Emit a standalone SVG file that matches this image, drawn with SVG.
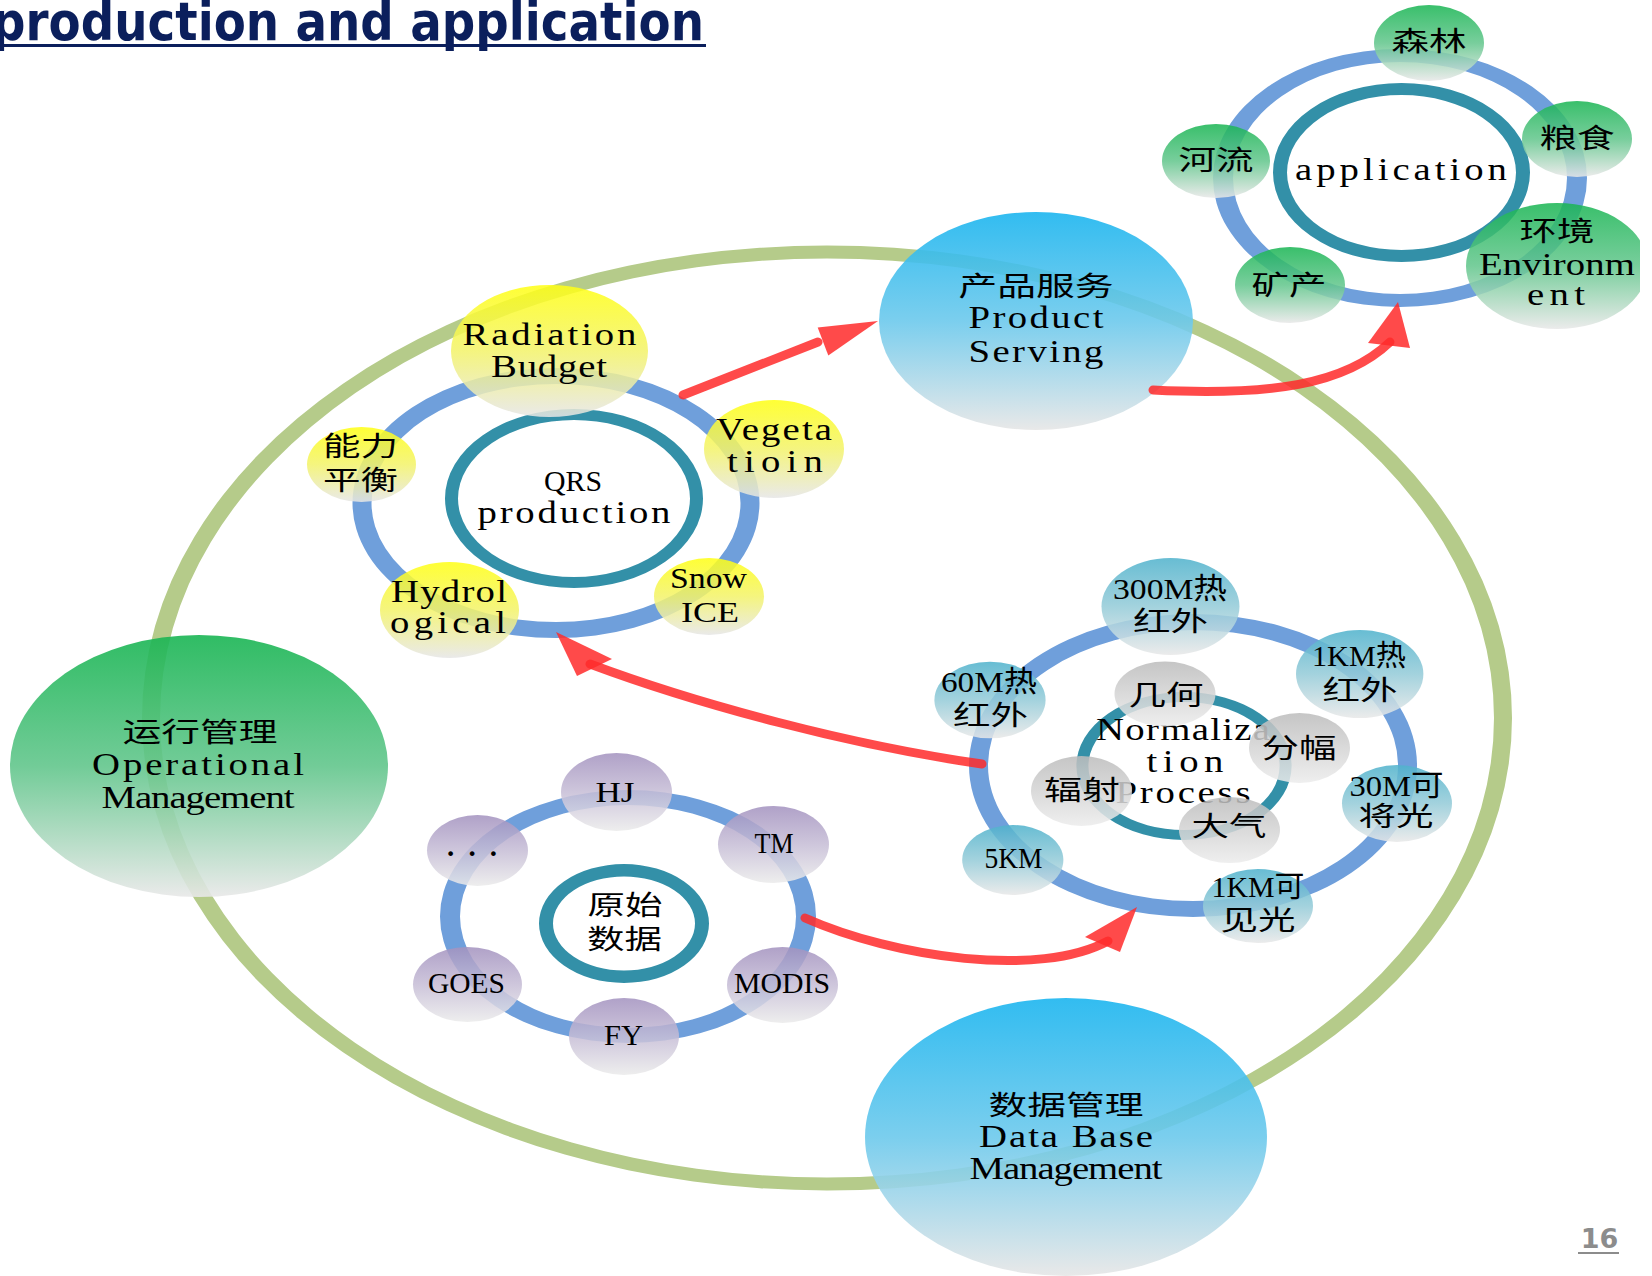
<svg xmlns="http://www.w3.org/2000/svg" width="1652" height="1276" viewBox="0 0 1652 1276">
<style>
.lat{font-family:'Liberation Serif','Noto Sans CJK SC',serif;font-size:29px;fill:#000;text-anchor:middle}
.sp{font-size:31px}
.cjk{font-family:'Noto Sans CJK SC','Liberation Serif',sans-serif;font-size:27px;fill:#000;text-anchor:middle}
.mix{font-family:'Liberation Serif','Noto Sans CJK SC',serif;font-size:29px;fill:#000;text-anchor:middle}
.blue{fill:#6f9fdb;fill-rule:evenodd}
.teal{fill:#3390a8;fill-rule:evenodd}
.big{opacity:.9}
.sat{opacity:.86}
.line{fill:none;stroke:#ff2a2a;stroke-width:9;stroke-linecap:round;opacity:.85}
.head{fill:#ff2a2a;opacity:.85}
</style>
<defs>
<linearGradient id="gGreen" x1="0" y1="0" x2="0" y2="1"><stop offset="0" stop-color="#19b553"/><stop offset=".5" stop-color="#62c68c"/><stop offset="1" stop-color="#e8e8e8"/></linearGradient>
<linearGradient id="gBlue" x1="0" y1="0" x2="0" y2="1"><stop offset="0" stop-color="#1bb5ef"/><stop offset=".5" stop-color="#6cc9ec"/><stop offset="1" stop-color="#e6e6e6"/></linearGradient>
<linearGradient id="gYellow" x1="0" y1="0" x2="0" y2="1"><stop offset="0" stop-color="#ffff14"/><stop offset=".5" stop-color="#f3f36a"/><stop offset="1" stop-color="#e6e6e6"/></linearGradient>
<linearGradient id="gCyan" x1="0" y1="0" x2="0" y2="1"><stop offset="0" stop-color="#4fb2cc"/><stop offset=".5" stop-color="#94cbd8"/><stop offset="1" stop-color="#e8e8e8"/></linearGradient>
<linearGradient id="gGray" x1="0" y1="0" x2="0" y2="1"><stop offset="0" stop-color="#bcbcbc"/><stop offset="1" stop-color="#ececec"/></linearGradient>
<linearGradient id="gPurple" x1="0" y1="0" x2="0" y2="1"><stop offset="0" stop-color="#a392bf"/><stop offset=".5" stop-color="#c6bdd6"/><stop offset="1" stop-color="#ebebeb"/></linearGradient>
<clipPath id="clipR"><rect x="0" y="0" width="1640" height="1276"/></clipPath>
</defs>
<rect width="1652" height="1276" fill="#fff"/>

<g id="title">
<text x="-8" y="40" font-family="'DejaVu Sans',Verdana,sans-serif" font-weight="bold" font-size="54" fill="#0b1f5c" textLength="712" lengthAdjust="spacingAndGlyphs">production and application</text>
<rect x="0" y="44" width="706" height="3" fill="#0b1f5c"/>
</g>

<g id="outer-cycle">
<path fill="#b5cb8a" fill-rule="evenodd" d="M142 718a685 472.5 0 1 0 1370 0a685 472.5 0 1 0 -1370 0Z M160 718a667 459.5 0 1 0 1334 0a667 459.5 0 1 0 -1334 0Z"/>
</g>

<g id="node-operational">
<ellipse class="big" cx="199" cy="766" rx="189" ry="131" fill="url(#gGreen)"/>
<text class="cjk" x="200" y="742" textLength="155" lengthAdjust="spacingAndGlyphs">运行管理</text>
<text class="lat sp" transform="scale(1.25 1)" x="158.4" y="775" textLength="169.6" lengthAdjust="spacing">Operational</text>
<text class="lat sp" transform="scale(1.25 1)" x="158.4" y="808" textLength="154.4" lengthAdjust="spacing">Management</text>
</g>

<g id="node-product">
<ellipse class="big" cx="1036" cy="321" rx="157" ry="109" fill="url(#gBlue)"/>
<text class="cjk" x="1036" y="296" textLength="155" lengthAdjust="spacingAndGlyphs">产品服务</text>
<text class="lat sp" transform="scale(1.25 1)" x="828.8" y="328" textLength="108" lengthAdjust="spacing">Product</text>
<text class="lat sp" transform="scale(1.25 1)" x="828.8" y="362" textLength="108" lengthAdjust="spacing">Serving</text>
</g>

<g id="node-database">
<ellipse class="big" cx="1066" cy="1137" rx="201" ry="139" fill="url(#gBlue)"/>
<text class="cjk" x="1066" y="1115" textLength="155" lengthAdjust="spacingAndGlyphs">数据管理</text>
<text class="lat sp" transform="scale(1.25 1)" x="852.8" y="1147" textLength="139.2" lengthAdjust="spacing">Data Base</text>
<text class="lat sp" transform="scale(1.25 1)" x="852.8" y="1179" textLength="154.4" lengthAdjust="spacing">Management</text>
</g>

<!-- application cluster -->
<g id="ring-application">
<path class="blue" d="M1213 178a187 129 0 1 0 374 0a187 129 0 1 0 -374 0Z M1233 178a167 116 0 1 0 334 0a167 116 0 1 0 -334 0Z"/>
</g>
<g id="node-application">
<path class="teal" d="M1273 172.5a128.5 89.5 0 1 0 257 0a128.5 89.5 0 1 0 -257 0Z M1287 172.5a114.5 77.5 0 1 0 229 0a114.5 77.5 0 1 0 -229 0Z"/>
<text class="lat sp" transform="scale(1.25 1)" x="1120.8" y="180" textLength="169.6" lengthAdjust="spacing">application</text>
</g>
<g id="node-forest">
<ellipse class="sat" cx="1429" cy="43" rx="55" ry="38" fill="url(#gGreen)"/>
<text class="cjk" x="1429" y="51" textLength="75" lengthAdjust="spacingAndGlyphs">森林</text>
</g>
<g id="node-grain">
<ellipse class="sat" cx="1577" cy="139" rx="55" ry="38" fill="url(#gGreen)"/>
<text class="cjk" x="1577" y="148" textLength="75" lengthAdjust="spacingAndGlyphs">粮食</text>
</g>
<g id="node-river">
<ellipse class="sat" cx="1216" cy="161" rx="54" ry="37" fill="url(#gGreen)"/>
<text class="cjk" x="1216" y="170" textLength="75" lengthAdjust="spacingAndGlyphs">河流</text>
</g>
<g id="node-mineral">
<ellipse class="sat" cx="1290" cy="285" rx="55" ry="38" fill="url(#gGreen)"/>
<text class="cjk" x="1289" y="295" textLength="75" lengthAdjust="spacingAndGlyphs">矿产</text>
</g>
<g id="node-environment">
<ellipse class="sat" cx="1557" cy="266" rx="91" ry="63" fill="url(#gGreen)" clip-path="url(#clipR)"/>
<text class="cjk" x="1557" y="241" textLength="75" lengthAdjust="spacingAndGlyphs">环境</text>
<text class="lat sp" transform="scale(1.25 1)" x="1245.6" y="275" textLength="124.8" lengthAdjust="spacing">Environm</text>
<text class="lat sp" transform="scale(1.25 1)" x="1244.8" y="305" textLength="46.4" lengthAdjust="spacing">ent</text>
</g>

<!-- QRS cluster -->
<g id="ring-qrs">
<path class="blue" d="M352.5 503a203.5 135 0 1 0 407 0a203.5 135 0 1 0 -407 0Z M371.5 503a184.5 119 0 1 0 369 0a184.5 119 0 1 0 -369 0Z"/>
</g>
<g id="node-qrs">
<path class="teal" d="M445 498.5a129 89.5 0 1 0 258 0a129 89.5 0 1 0 -258 0Z M458 498.5a116 78.5 0 1 0 232 0a116 78.5 0 1 0 -232 0Z"/>
<text class="lat" x="573" y="491" textLength="58" lengthAdjust="spacingAndGlyphs">QRS</text>
<text class="lat sp" transform="scale(1.25 1)" x="459.2" y="523" textLength="154.4" lengthAdjust="spacing">production</text>
</g>
<g id="node-radiation">
<ellipse class="sat" cx="549.5" cy="351" rx="98.5" ry="66" fill="url(#gYellow)"/>
<text class="lat sp" transform="scale(1.25 1)" x="439.6" y="345" textLength="139.2" lengthAdjust="spacing">Radiation</text>
<text class="lat sp" transform="scale(1.25 1)" x="439.2" y="377" textLength="92.8" lengthAdjust="spacing">Budget</text>
</g>
<g id="node-energy">
<ellipse class="sat" cx="361.5" cy="464.5" rx="54.5" ry="37.5" fill="url(#gYellow)"/>
<text class="cjk" x="360.5" y="456" textLength="75" lengthAdjust="spacingAndGlyphs">能力</text>
<text class="cjk" x="360.5" y="490" textLength="75" lengthAdjust="spacingAndGlyphs">平衡</text>
</g>
<g id="node-vegetation">
<ellipse class="sat" cx="774" cy="449" rx="70" ry="49" fill="url(#gYellow)"/>
<text class="lat sp" transform="scale(1.25 1)" x="619.2" y="440" textLength="92.8" lengthAdjust="spacing">Vegeta</text>
<text class="lat sp" transform="scale(1.25 1)" x="620" y="472" textLength="76.8" lengthAdjust="spacing">tioin</text>
</g>
<g id="node-snow">
<ellipse class="sat" cx="709" cy="596.5" rx="55" ry="38.5" fill="url(#gYellow)"/>
<text class="lat" x="708.5" y="588" textLength="77" lengthAdjust="spacingAndGlyphs">Snow</text>
<text class="lat" x="710" y="622" textLength="58" lengthAdjust="spacingAndGlyphs">ICE</text>
</g>
<g id="node-hydro">
<ellipse class="sat" cx="449.5" cy="610" rx="69.5" ry="48" fill="url(#gYellow)"/>
<text class="lat sp" transform="scale(1.25 1)" x="359.2" y="602" textLength="92.8" lengthAdjust="spacing">Hydrol</text>
<text class="lat sp" transform="scale(1.25 1)" x="358.4" y="633" textLength="92.8" lengthAdjust="spacing">ogical</text>
</g>

<!-- Normalization cluster -->
<g id="ring-norm">
<path class="blue" d="M969 765.5a224 151.5 0 1 0 448 0a224 151.5 0 1 0 -448 0Z M988 765.5a205 135.5 0 1 0 410 0a205 135.5 0 1 0 -410 0Z"/>
</g>
<g id="node-normalization">
<path class="teal" d="M1076.4 766a107.6 74 0 1 0 215.2 0a107.6 74 0 1 0 -215.2 0Z M1088.4 766a95.6 64 0 1 0 191.2 0a95.6 64 0 1 0 -191.2 0Z"/>
<text class="lat sp" transform="scale(1.25 1)" x="946.4" y="740" textLength="139.2" lengthAdjust="spacing">Normaliza</text>
<text class="lat sp" transform="scale(1.25 1)" x="948" y="772" textLength="61.6" lengthAdjust="spacing">tion</text>
<text class="lat sp" transform="scale(1.25 1)" x="946.4" y="803" textLength="108" lengthAdjust="spacing">Process</text>
</g>
<g id="node-geometry">
<ellipse class="sat" cx="1165" cy="694" rx="50.5" ry="32.5" fill="url(#gGray)"/>
<text class="cjk" x="1166" y="705" textLength="75" lengthAdjust="spacingAndGlyphs">几何</text>
</g>
<g id="node-tiling">
<ellipse class="sat" cx="1299.5" cy="748" rx="50.5" ry="35" fill="url(#gGray)"/>
<text class="cjk" x="1299" y="758" textLength="75" lengthAdjust="spacingAndGlyphs">分幅</text>
</g>
<g id="node-radiometric">
<ellipse class="sat" cx="1081.5" cy="791" rx="50.5" ry="35" fill="url(#gGray)"/>
<text class="cjk" x="1082" y="800" textLength="76" lengthAdjust="spacingAndGlyphs">辐射</text>
</g>
<g id="node-atmosphere">
<ellipse class="sat" cx="1229.5" cy="830" rx="50.5" ry="33" fill="url(#gGray)"/>
<text class="cjk" x="1229" y="836" textLength="75" lengthAdjust="spacingAndGlyphs">大气</text>
</g>
<g id="node-300m">
<ellipse class="sat" cx="1170.5" cy="606.5" rx="69" ry="48.5" fill="url(#gCyan)"/>
<text class="mix" x="1170" y="599" textLength="114" lengthAdjust="spacingAndGlyphs">300M热</text>
<text class="cjk" x="1170.5" y="631" textLength="75" lengthAdjust="spacingAndGlyphs">红外</text>
</g>
<g id="node-1km-ir">
<ellipse class="sat" cx="1359.7" cy="674" rx="63.7" ry="44" fill="url(#gCyan)"/>
<text class="mix" x="1359" y="666" textLength="94" lengthAdjust="spacingAndGlyphs">1KM热</text>
<text class="cjk" x="1360" y="700" textLength="75" lengthAdjust="spacingAndGlyphs">红外</text>
</g>
<g id="node-60m">
<ellipse class="sat" cx="990" cy="700" rx="55.6" ry="38.3" fill="url(#gCyan)"/>
<text class="mix" x="989" y="692" textLength="96" lengthAdjust="spacingAndGlyphs">60M热</text>
<text class="cjk" x="990.5" y="725" textLength="75" lengthAdjust="spacingAndGlyphs">红外</text>
</g>
<g id="node-30m">
<ellipse class="sat" cx="1397" cy="803.5" rx="55" ry="38.5" fill="url(#gCyan)"/>
<text class="mix" x="1396.5" y="796" textLength="94" lengthAdjust="spacingAndGlyphs">30M可</text>
<text class="cjk" x="1396" y="826" textLength="75" lengthAdjust="spacingAndGlyphs">将光</text>
</g>
<g id="node-5km">
<ellipse class="sat" cx="1012.8" cy="860" rx="50.6" ry="35" fill="url(#gCyan)"/>
<text class="lat" x="1013.5" y="868" textLength="58" lengthAdjust="spacingAndGlyphs">5KM</text>
</g>
<g id="node-1km-vis">
<ellipse class="sat" cx="1258" cy="906" rx="55" ry="37" fill="url(#gCyan)"/>
<text class="mix" x="1258" y="897" textLength="93" lengthAdjust="spacingAndGlyphs">1KM可</text>
<text class="cjk" x="1258" y="930" textLength="75" lengthAdjust="spacingAndGlyphs">见光</text>
</g>

<!-- Raw data cluster -->
<g id="ring-raw">
<path class="blue" d="M440 916.5a188 126.5 0 1 0 376 0a188 126.5 0 1 0 -376 0Z M460 916.5a168 111.5 0 1 0 336 0a168 111.5 0 1 0 -336 0Z"/>
</g>
<g id="node-raw">
<path class="teal" d="M539 923.5a85 59.5 0 1 0 170 0a85 59.5 0 1 0 -170 0Z M553 923.5a71 47 0 1 0 142 0a71 47 0 1 0 -142 0Z"/>
<text class="cjk" x="625" y="915" textLength="75" lengthAdjust="spacingAndGlyphs">原始</text>
<text class="cjk" x="624.5" y="949" textLength="75" lengthAdjust="spacingAndGlyphs">数据</text>
</g>
<g id="node-hj">
<ellipse class="sat" cx="616.5" cy="792" rx="55.5" ry="39" fill="url(#gPurple)"/>
<text class="lat" x="615" y="802" textLength="39" lengthAdjust="spacingAndGlyphs">HJ</text>
</g>
<g id="node-tm">
<ellipse class="sat" cx="773.5" cy="844.5" rx="55.5" ry="38.5" fill="url(#gPurple)"/>
<text class="lat" x="774" y="853" textLength="39" lengthAdjust="spacingAndGlyphs">TM</text>
</g>
<g id="node-more">
<ellipse class="sat" cx="477.5" cy="850.5" rx="50.5" ry="35.5" fill="url(#gPurple)"/>
<text class="lat" x="472" y="856" textLength="50" lengthAdjust="spacing" font-weight="bold">...</text>
</g>
<g id="node-goes">
<ellipse class="sat" cx="467.5" cy="984.5" rx="54.5" ry="37.5" fill="url(#gPurple)"/>
<text class="lat" x="466.5" y="993" textLength="77" lengthAdjust="spacingAndGlyphs">GOES</text>
</g>
<g id="node-fy">
<ellipse class="sat" cx="624" cy="1036.5" rx="55" ry="38.5" fill="url(#gPurple)"/>
<text class="lat" x="623.5" y="1045" textLength="39" lengthAdjust="spacingAndGlyphs">FY</text>
</g>
<g id="node-modis">
<ellipse class="sat" cx="782.5" cy="985" rx="55.5" ry="38" fill="url(#gPurple)"/>
<text class="lat" x="782" y="993" textLength="96" lengthAdjust="spacingAndGlyphs">MODIS</text>
</g>

<g id="connectors">
<path class="line" d="M683 395L818 342"/>
<polygon class="head" points="878,321 817.7,327.5 828.3,355.5"/>
<path class="line" d="M1153 390C1270 396 1345 385 1390 342"/>
<polygon class="head" points="1398,302 1368,343 1410,348"/>
<path class="line" d="M982 764C850 745 700 705 590 664"/>
<polygon class="head" points="556,632 612,659 577,676"/>
<path class="line" d="M805 918C895 958 1040 978 1108 941"/>
<polygon class="head" points="1137,907 1085,937 1120,952"/>
</g>

<g id="page-number">
<text x="1599.5" y="1248" font-family="'DejaVu Sans',Verdana,sans-serif" font-weight="bold" font-size="27" fill="#8c8c8c" text-anchor="middle">16</text>
<rect x="1578" y="1252" width="41" height="2" fill="#8c8c8c"/>
</g>
</svg>
